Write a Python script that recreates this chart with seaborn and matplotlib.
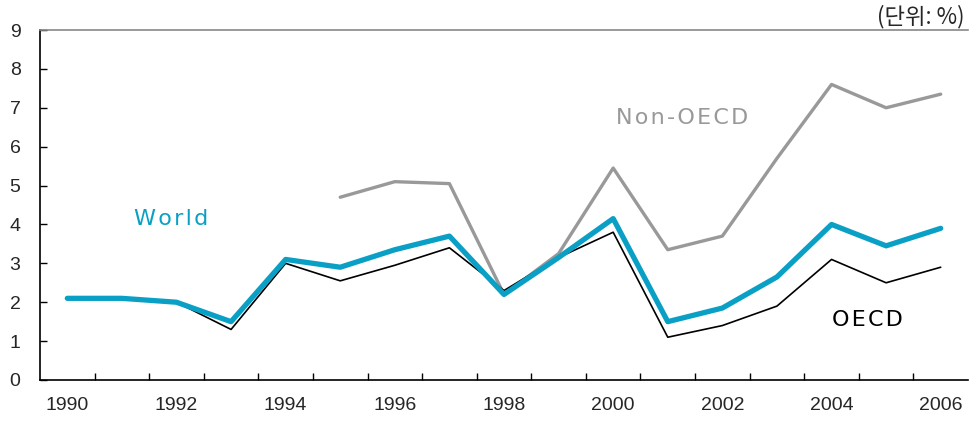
import numpy as np
import pandas as pd
import matplotlib
matplotlib.use("Agg")
import matplotlib.pyplot as plt
import seaborn as sns
from matplotlib.ticker import FixedLocator

years = list(range(1990, 2007))
world = [2.1, 2.1, 2.0, 1.5, 3.1, 2.9, 3.35, 3.7, 2.2, 3.15, 4.15, 1.5, 1.85, 2.65, 4.0, 3.45, 3.9]
oecd = [2.1, 2.1, 2.0, 1.3, 3.0, 2.55, 2.95, 3.4, 2.3, 3.15, 3.8, 1.1, 1.4, 1.9, 3.1, 2.5, 2.9]
non_oecd_years = list(range(1995, 2007))
non_oecd = [4.7, 5.1, 5.05, 2.2, 3.25, 5.45, 3.35, 3.7, 5.7, 7.6, 7.0, 7.35]
year_labels = [str(y) for y in range(1990, 2007, 2)]

sns.set_style("white")
plt.rcParams['font.family'] = ['Liberation Sans', 'DejaVu Sans']

fig = plt.figure(figsize=(9.69, 4.25), dpi=100)
ax = fig.add_axes([40 / 969, 45 / 425, 928 / 969, 350 / 425])

df_oecd = pd.DataFrame({"year": years, "value": oecd})
df_world = pd.DataFrame({"year": years, "value": world})
df_non = pd.DataFrame({"year": non_oecd_years, "value": non_oecd})

sns.lineplot(data=df_non, x="year", y="value", color="#999999", linewidth=2.4, ax=ax)
sns.lineplot(data=df_oecd, x="year", y="value", color="black", linewidth=1.2, ax=ax)
sns.lineplot(data=df_world, x="year", y="value", color="#0aa0c6", linewidth=3.8, ax=ax,
             solid_capstyle="round")

ax.set_xlim(1989.5, 2006.5)
ax.set_ylim(0, 9)
ax.set_xlabel("")
ax.set_ylabel("")

ax.set_xticks(range(1990, 2007, 2))
ax.set_xticklabels(year_labels)
ax.xaxis.set_minor_locator(FixedLocator([y + 0.5 for y in range(1990, 2006)]))
ax.tick_params(axis="x", which="major", length=0, labelsize=14, pad=12)
ax.tick_params(axis="x", which="minor", direction="in", length=5, width=1, color="black", bottom=True)
ax.set_yticks(range(0, 10))
ax.tick_params(axis="y", direction="in", length=5, width=1, color="black", labelsize=14, pad=14, left=True)

for s in ["left", "bottom"]:
    ax.spines[s].set_color("black")
    ax.spines[s].set_linewidth(1.2)
ax.spines["top"].set_color("#888888")
ax.spines["top"].set_linewidth(1.2)
ax.spines["right"].set_visible(False)


def spaced(s):
    # wide letter spacing like the original labels
    return "\u200a".join(s)


lab_font = ['DejaVu Sans']
ax.text(1991.9, 4.14, spaced("World"), color="#0aa0c6", fontsize=16, ha="center", va="center", family=lab_font)
ax.text(2001.26, 6.73, spaced("Non-OECD"), color="#999999", fontsize=16, ha="center", va="center", family=lab_font)
ax.text(2004.65, 1.54, spaced("OECD"), color="black", fontsize=16, ha="center", va="center", family=lab_font)

fig.text(0.995, 0.962, "(단위: %)", ha="right", va="center", fontsize=16,
         family=['Noto Sans CJK KR', 'DejaVu Sans'])

fig.savefig("out.png", dpi=100)
